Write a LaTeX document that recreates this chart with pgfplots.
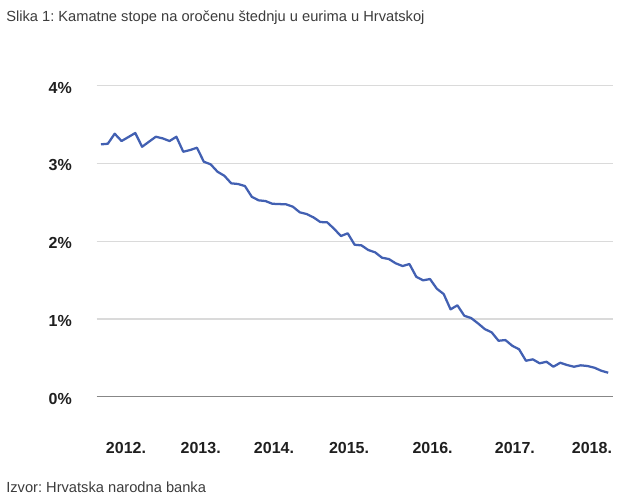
\documentclass[border=0pt]{standalone}
\usepackage{pgfplots}
\pgfplotsset{compat=1.18}
\usepackage{fontspec}
\setmainfont{Liberation Sans}
\frenchspacing
\definecolor{linecol}{RGB}{66,96,178}
\definecolor{gridcol}{RGB}{218,218,218}
\definecolor{zerocol}{RGB}{135,135,135}
\definecolor{txtcol}{RGB}{60,60,60}
\pgfplotstableread{
x y
0 3.246
1 3.254
2 3.383
3 3.289
4 3.340
5 3.392
6 3.215
7 3.280
8 3.344
9 3.323
10 3.289
11 3.344
12 3.151
13 3.173
14 3.203
15 3.023
16 2.989
17 2.894
18 2.842
19 2.745
20 2.736
21 2.710
22 2.572
23 2.526
24 2.517
25 2.482
26 2.478
27 2.475
28 2.444
29 2.372
30 2.350
31 2.307
32 2.247
33 2.243
34 2.161
35 2.067
36 2.102
37 1.955
38 1.947
39 1.887
40 1.857
41 1.788
42 1.771
43 1.716
44 1.681
45 1.707
46 1.543
47 1.497
48 1.514
49 1.389
50 1.321
51 1.124
52 1.176
53 1.042
54 1.012
55 0.944
56 0.870
57 0.828
58 0.720
59 0.729
60 0.656
61 0.610
62 0.463
63 0.481
64 0.430
65 0.450
66 0.386
67 0.437
68 0.408
69 0.386
70 0.404
71 0.395
72 0.373
73 0.334
74 0.309
}\datatable
\begin{document}
\begin{tikzpicture}
\path[use as bounding box] (0,0) rectangle (468pt,375.75pt);
\node[anchor=west, inner sep=0pt, font=\fontsize{11}{13}\selectfont, text=txtcol] at (4.5pt,362.25pt) {Slika 1: Kamatne stope na oročenu štednju u eurima u Hrvatskoj};
\node[anchor=west, inner sep=0pt, font=\fontsize{11}{13}\selectfont, text=txtcol] at (4.5pt,10.5pt) {Izvor: Hrvatska narodna banka};
\begin{axis}[
  at={(72.5pt,78.2pt)}, anchor=south west,
  scale only axis, width=387.2pt, height=233.25pt,
  xmin=-0.63, xmax=74.69, ymin=0, ymax=4,
  axis line style={draw=none},
  major tick length=0pt,
  ytick={1,2,3,4}, yticklabels={1\%,2\%,3\%,4\%},
  ymajorgrids, grid style={gridcol, line width=0.8pt},
  extra y ticks={0}, extra y tick labels={0\%},
  extra y tick style={grid style={zerocol, line width=1.1pt}},
  xtick={3.65,14.55,25.24,36.19,48.38,60.39,71.63},
  xticklabels={2012.,2013.,2014.,2015.,2016.,2017.,2018.},
  xticklabel style={anchor=center, inner sep=0pt, yshift=-38.1pt},
  yticklabel style={anchor=east, inner sep=0pt, xshift=-18.5pt, yshift=-1.5pt},
  ticklabel style={font=\bfseries\fontsize{12}{14}\selectfont, text=black!88},
  clip=false,
]
\addplot[linecol, line width=1.7pt, line join=round, mark=none] table[x=x,y=y] {\datatable};
\end{axis}
\end{tikzpicture}
\end{document}
